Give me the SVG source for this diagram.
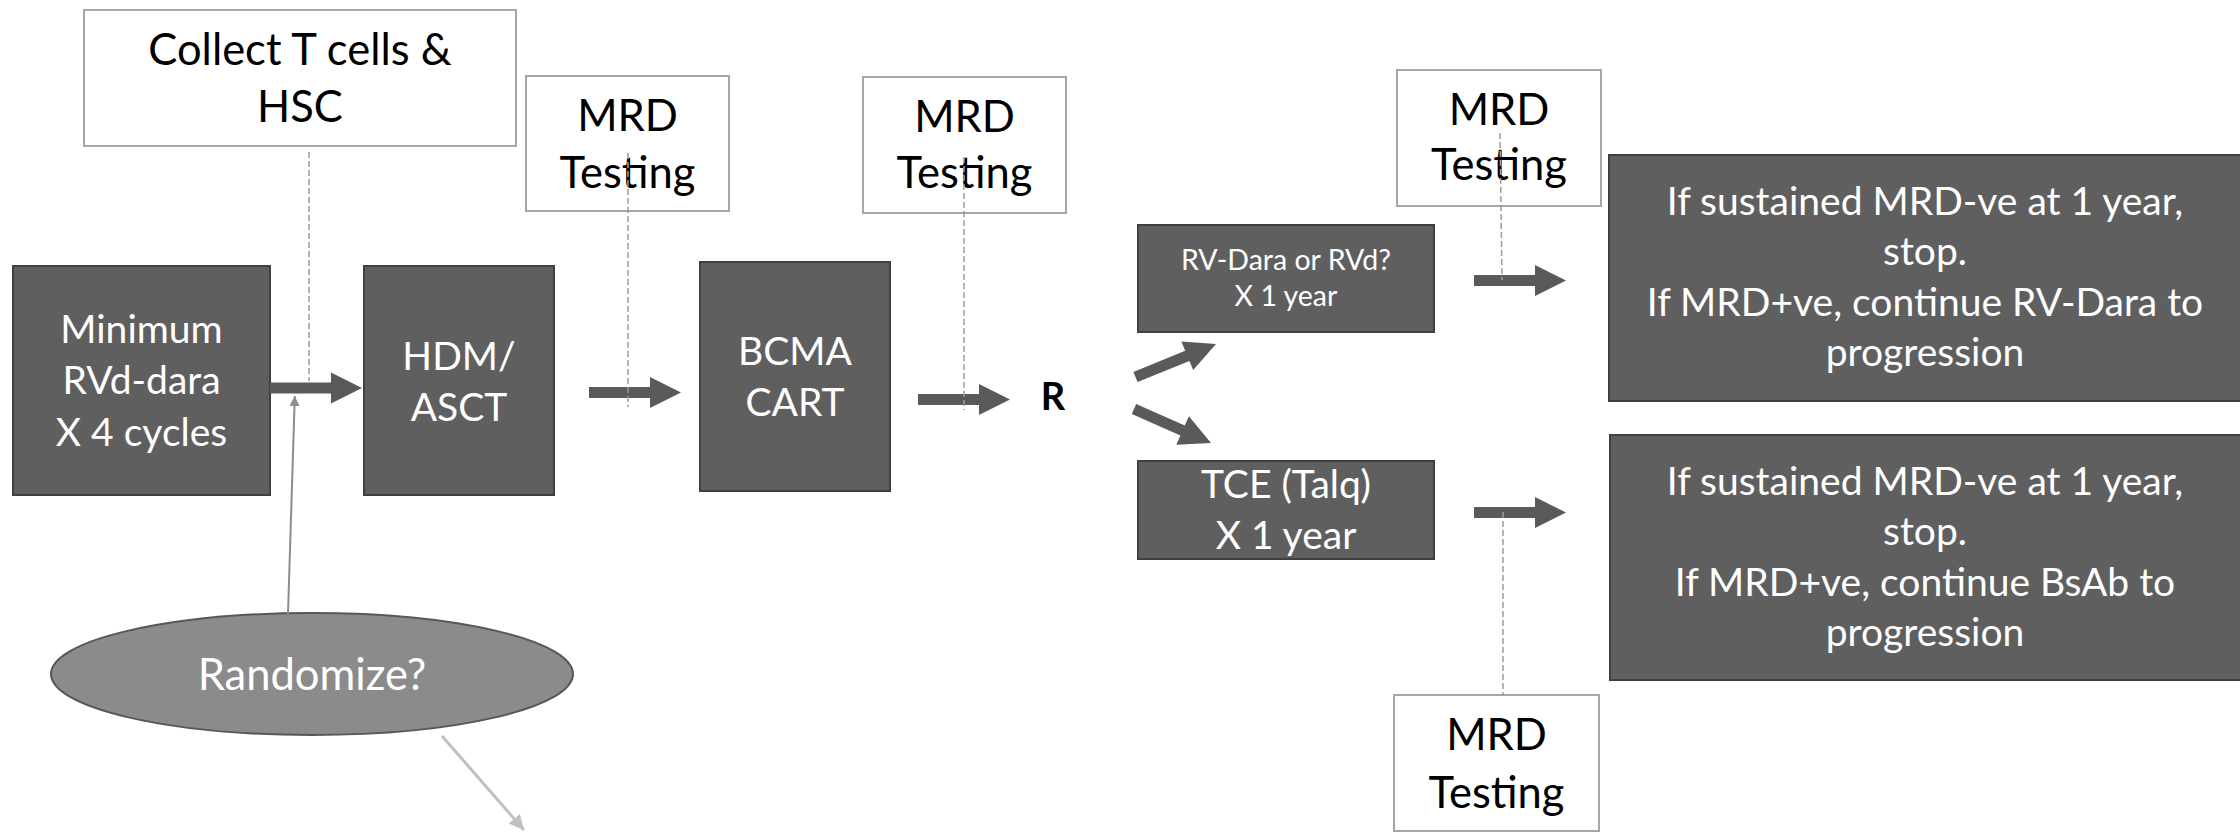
<svg xmlns="http://www.w3.org/2000/svg" width="2240" height="836" viewBox="0 0 2240 836">
  <style>
    .box{fill:#5f5f5f;stroke:#404040;stroke-width:2}
    .note{fill:#ffffff;stroke:#a6a6a6;stroke-width:2}
    .oval{fill:#8b8b8b;stroke:#575757;stroke-width:2}
    .t{font-family:Lato,"Open Sans","Liberation Sans",sans-serif;text-anchor:middle}
    .w{fill:#ffffff}
    .k{fill:#000000}
    .big{font-size:43.5px}
    .mid{font-size:39px}
    .sm{font-size:28.5px}
    .arrow{fill:#5a5a5a}
    .dash{fill:none;stroke:#9c9c9c;stroke-width:1.5;stroke-dasharray:6 3}
    .thin{fill:none;stroke:#8c8c8c;stroke-width:2}
    .pale{fill:none;stroke:#c0c0c0;stroke-width:3}
  </style>
  <defs>
    <!-- block arrow pointing right, tail at origin -->
    <path id="blockArrow" d="M0,-5.5 H61 V-15.5 L92,0 L61,15.5 V5.5 H0 Z"/>
    <marker id="headGrey" viewBox="0 0 10 10" refX="10" refY="5" markerWidth="5" markerHeight="5" markerUnits="strokeWidth" orient="auto">
      <path d="M0,0 L10,5 L0,10 Z" fill="#8c8c8c"/>
    </marker>
    <marker id="headPale" viewBox="0 0 10 10" refX="10" refY="5" markerWidth="5" markerHeight="5" markerUnits="strokeWidth" orient="auto">
      <path d="M0,0 L10,5 L0,10 Z" fill="#c0c0c0"/>
    </marker>
  </defs>

  <rect width="2240" height="836" fill="#ffffff"/>

  <g id="collect">
    <rect class="note" x="84" y="10" width="432" height="136"/>
    <text class="t k big" x="300" y="65">Collect T cells &amp;</text>
    <text class="t k big" x="300" y="122">HSC</text>
  </g>

  <g id="mrd1">
    <rect class="note" x="526" y="76" width="203" height="135"/>
    <text class="t k big" x="627.5" y="131">MRD</text>
    <text class="t k big" x="627.5" y="188">Testing</text>
  </g>

  <g id="mrd2">
    <rect class="note" x="863" y="77" width="203" height="136"/>
    <text class="t k big" x="964.5" y="132">MRD</text>
    <text class="t k big" x="964.5" y="188">Testing</text>
  </g>

  <g id="mrd3">
    <rect class="note" x="1397" y="70" width="204" height="136"/>
    <text class="t k big" x="1499" y="125">MRD</text>
    <text class="t k big" x="1499" y="180">Testing</text>
  </g>

  <g id="mrd4">
    <rect class="note" x="1394" y="695" width="205" height="136"/>
    <text class="t k big" x="1496.5" y="750">MRD</text>
    <text class="t k big" x="1496.5" y="808">Testing</text>
  </g>

  <g id="induction">
    <rect class="box" x="13" y="266" width="257" height="229"/>
    <text class="t w mid" x="141.5" y="343">Minimum</text>
    <text class="t w mid" x="141.5" y="394">RVd-dara</text>
    <text class="t w mid" x="141.5" y="446">X 4 cycles</text>
  </g>

  <g id="asct">
    <rect class="box" x="364" y="266" width="190" height="229"/>
    <text class="t w mid" x="459" y="370">HDM/</text>
    <text class="t w mid" x="459" y="421">ASCT</text>
  </g>

  <g id="cart">
    <rect class="box" x="700" y="262" width="190" height="229"/>
    <text class="t w mid" x="795" y="365">BCMA</text>
    <text class="t w mid" x="795" y="416">CART</text>
  </g>

  <g id="randomization">
    <text class="t k" x="1053" y="410" font-size="38" font-weight="bold">R</text>
  </g>

  <g id="armA">
    <rect class="box" x="1138" y="225" width="296" height="107"/>
    <text class="t w sm" x="1286" y="270">RV-Dara or RVd?</text>
    <text class="t w sm" x="1286" y="306">X 1 year</text>
  </g>

  <g id="armB">
    <rect class="box" x="1138" y="461" width="296" height="98"/>
    <text class="t w mid" x="1286" y="498">TCE (Talq)</text>
    <text class="t w mid" x="1286" y="549">X 1 year</text>
  </g>

  <g id="outcomeA">
    <rect class="box" x="1609" y="155" width="633" height="246"/>
    <text class="t w mid" x="1925" y="215">If sustained MRD-ve at 1 year,</text>
    <text class="t w mid" x="1925" y="265">stop.</text>
    <text class="t w mid" x="1925" y="316">If MRD+ve, continue RV-Dara to</text>
    <text class="t w mid" x="1925" y="366">progression</text>
  </g>

  <g id="outcomeB">
    <rect class="box" x="1610" y="435" width="632" height="245"/>
    <text class="t w mid" x="1925" y="495">If sustained MRD-ve at 1 year,</text>
    <text class="t w mid" x="1925" y="545">stop.</text>
    <text class="t w mid" x="1925" y="596">If MRD+ve, continue BsAb to</text>
    <text class="t w mid" x="1925" y="646">progression</text>
  </g>

  <g id="randomizeQ">
    <ellipse class="oval" cx="312" cy="674" rx="261" ry="61"/>
    <text class="t w big" x="312" y="690">Randomize?</text>
  </g>

  <g id="connectors">
    <!-- main flow arrows -->
    <use href="#blockArrow" class="arrow" transform="translate(270,388)"/>
    <use href="#blockArrow" class="arrow" transform="translate(589,392.5)"/>
    <use href="#blockArrow" class="arrow" transform="translate(918,399.5)"/>
    <use href="#blockArrow" class="arrow" transform="translate(1474,280.5)"/>
    <use href="#blockArrow" class="arrow" transform="translate(1474,512.5)"/>
    <!-- branches after R -->
    <polygon class="arrow" points="1133.4,371.9 1185.2,350.7 1181.4,341.5 1216,344 1193.2,370.1 1189.4,360.9 1137.6,382.1"/>
    <polygon class="arrow" points="1136.2,404 1184.8,425.5 1188.9,416.3 1211,443 1176.3,444.7 1180.4,435.5 1131.8,414"/>
    <!-- dashed timing lines -->
    <line class="dash" x1="309" y1="152" x2="309" y2="381"/>
    <line class="dash" x1="628" y1="153" x2="628" y2="407"/>
    <line class="dash" x1="964" y1="157" x2="964" y2="410"/>
    <line class="dash" x1="1500" y1="133" x2="1502" y2="280"/>
    <line class="dash" x1="1503" y1="512" x2="1503" y2="695"/>
    <!-- randomize links -->
    <line class="thin" x1="288" y1="614" x2="294.8" y2="396" marker-end="url(#headGrey)"/>
    <line class="pale" x1="442" y1="736" x2="524" y2="830" marker-end="url(#headPale)"/>
  </g>
</svg>
